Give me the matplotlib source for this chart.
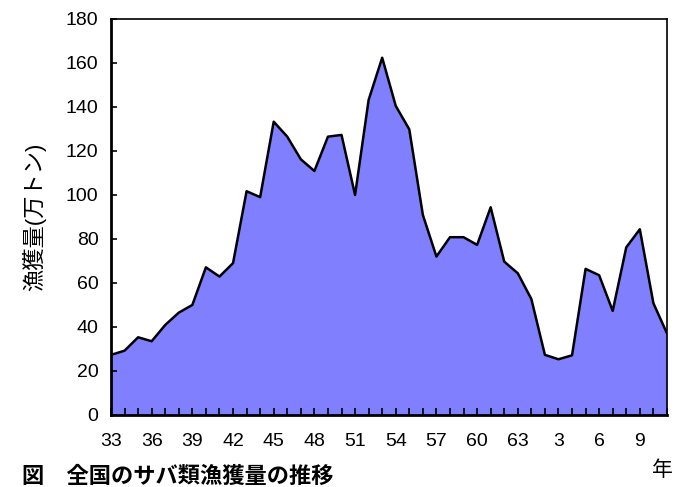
import numpy as np
import matplotlib.pyplot as plt

plt.rcParams['font.family'] = ['Liberation Sans', 'Noto Sans CJK JP', 'DejaVu Sans']

# 昭和33年(1958)〜平成11年(1999)
years = np.arange(1958, 2000)
catch = [27.3, 29.2, 35.3, 33.5, 40.9, 46.5, 50.0, 67.1, 62.9, 69.0,
         101.7, 99.0, 133.3, 126.5, 116.2, 110.9, 126.5, 127.3, 100.0, 143.2,
         162.4, 140.5, 129.8, 90.9, 72.0, 80.8, 80.8, 77.3, 94.4, 69.7,
         64.4, 52.7, 27.3, 25.3, 27.1, 66.4, 63.5, 47.3, 76.2, 84.4,
         50.8, 37.1]
tick_years = [1958, 1961, 1964, 1967, 1970, 1973, 1976, 1979, 1982, 1985,
              1988, 1991, 1994, 1997]
tick_labels = ['33', '36', '39', '42', '45', '48', '51', '54', '57', '60',
               '63', '3', '6', '9']

fig = plt.figure(figsize=(6.83, 4.87), dpi=100)
ax = fig.add_axes([0.1625, 0.148, 0.814, 0.813])

ax.fill_between(years, catch, 0, color='#8080ff', linewidth=0)
ax.plot(years, catch, color='black', linewidth=1.8)

ax.set_xlim(years[0], years[-1])
ax.set_ylim(0, 180)
ax.set_yticks(range(0, 181, 20))
ax.set_xticks(tick_years)
ax.set_xticklabels(tick_labels)
ax.set_xticks(years, minor=True)

ax.tick_params(axis='y', direction='in', length=4, width=1.2, pad=9, labelsize=14)
ax.tick_params(axis='x', which='both', direction='in', length=5, width=1.2,
               pad=13, labelsize=14)

for side in ['left', 'bottom']:
    ax.spines[side].set_linewidth(2)
for side in ['top', 'right']:
    ax.spines[side].set_linewidth(1.2)

ax.set_ylabel('漁獲量(万トン)', fontsize=16, labelpad=14)

fig.text(0.032, 0.022, '図　全国のサバ類漁獲量の推移', fontsize=16,
         fontweight='bold', ha='left', va='center',
         family=['Noto Sans CJK JP'])
fig.text(0.97, 0.035, '年', fontsize=15, ha='center', va='center',
         family=['Noto Sans CJK JP'])

fig.savefig('out.png', dpi=100)
